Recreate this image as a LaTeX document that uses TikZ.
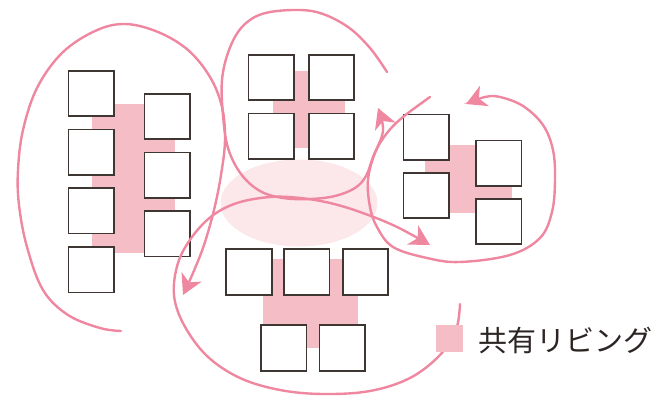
\documentclass[tikz,border=0pt]{standalone}
\usepackage{fontspec}
\newfontfamily\jpfont{Noto Sans CJK JP}
\usetikzlibrary{arrows.meta}
\definecolor{roompink}{HTML}{F5BEC6}
\definecolor{hallpink}{HTML}{FCE7EB}
\definecolor{looppink}{HTML}{EE879F}
\definecolor{wallgray}{HTML}{3E3633}
\definecolor{labelgray}{HTML}{2B2523}
\begin{document}
\begin{tikzpicture}[x=1pt,y=-1pt,
  room/.style={draw=wallgray, line width=1.6pt, fill=white, minimum size=45.5pt, inner sep=0pt, outer sep=0pt},
  loop/.style={draw=looppink, line width=2.4pt, line cap=round},
  loopend/.style={loop, -{Stealth[length=20pt,width=22pt,inset=6pt]}}]
\useasboundingbox (0,0) rectangle (662,396);

% central shared hall
\fill[hallpink] (299,203) ellipse [x radius=78.5, y radius=43.5];

% shared living areas
\fill[roompink] (92,104) rectangle (175,253);
\fill[roompink] (273,71) rectangle (345,148);
\fill[roompink] (425,145) rectangle (512,213);
\fill[roompink] (263.3,259.3) rectangle (358.3,347.7);

% left cluster
\node[room] (la1) at (91.2,93.5) {};
\node[room] (la2) at (91.2,152.2) {};
\node[room] (la3) at (91.2,210.9) {};
\node[room] (la4) at (91.2,269.6) {};
\node[room] (lb1) at (167.2,116.5) {};
\node[room] (lb2) at (167.2,175.2) {};
\node[room] (lb3) at (167.2,233.9) {};

% top cluster
\node[room] (ta1) at (271.2,77.5) {};
\node[room] (tb1) at (331.5,77.5) {};
\node[room] (ta2) at (271.2,136.3) {};
\node[room] (tb2) at (331.5,136.3) {};

% right cluster
\node[room] (ra1) at (426.3,137.2) {};
\node[room] (ra2) at (426.3,195.5) {};
\node[room] (rb1) at (498.8,163.3) {};
\node[room] (rb2) at (498.8,221.5) {};

% bottom cluster
\node[room] (ba1) at (249,272) {};
\node[room] (ba2) at (306.8,272) {};
\node[room] (ba3) at (365.5,272) {};
\node[room] (bb1) at (283.8,348) {};
\node[room] (bb2) at (342.2,348) {};

% circulation loops
\draw[loopend] plot[smooth, tension=0.6] coordinates {
  (121,331) (100,328) (68,315) (43,290) (27,247) (19,205) (18,170) (23,130)
  (37,88) (62,53) (95,31) (125,24) (158,32) (188,50) (210,77) (222,107)
  (225,140) (221,175) (214,210) (204,245) (193,273) (183,295)};

\draw[loopend] plot[smooth, tension=0.6] coordinates {
  (387,72) (370,48) (348,27) (320,13) (293,10) (262,14) (242,27) (229,50)
  (222,80) (223,115) (228,148) (241,174) (260,191) (283,198) (310,199)
  (335,196) (355,188) (366,176) (373,157) (383,131) (378,108)};

\draw[loopend] plot[smooth, tension=0.6] coordinates {
  (430,97) (403,117) (387,133) (375,153) (368,180) (370,207) (377,227)
  (393,247) (427,258) (460,262) (510,255) (540,238) (552,212) (555,180)
  (553,150) (543,125) (523,106) (500,97) (485,97) (466,104)};

\draw[loopend] plot[smooth, tension=0.6] coordinates {
  (460,304) (456,330) (440,355) (410,378) (370,391) (323,394) (280,390)
  (240,378) (207,356) (184,325) (174,295) (178,263) (192,237) (212,216)
  (237,203) (270,197) (300,198) (330,203) (360,212) (395,226) (430,245)};

% legend
\node[fill=roompink, minimum size=26.5pt, inner sep=0pt] (legendkey) at (449.5,338.5) {};
\node[anchor=west, text=labelgray, inner sep=0pt,
      font=\jpfont\fontsize{29pt}{29pt}\selectfont] (legendtext) at (478,340) {共有リビング};
\end{tikzpicture}
\end{document}
